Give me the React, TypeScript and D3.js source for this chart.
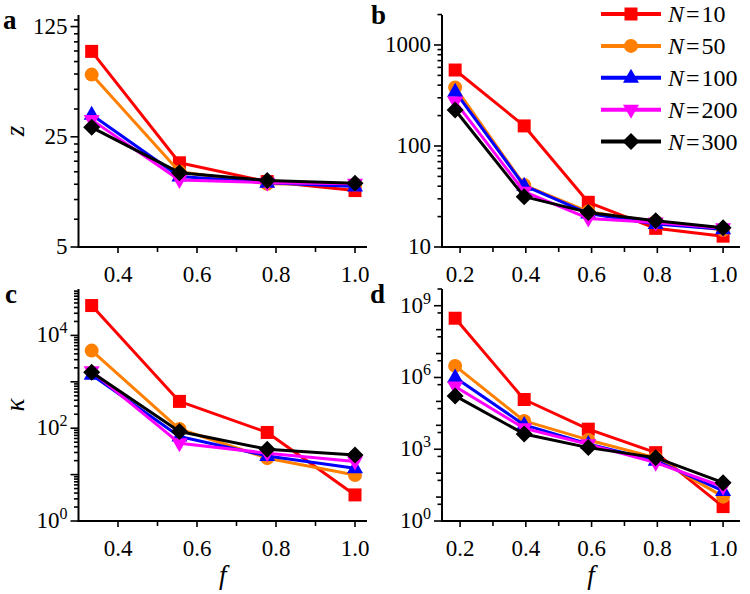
import React from 'react';
import * as d3 from 'd3';

// ---------- data ----------
const seriesLabels = ['10', '50', '100', '200', '300'];
const seriesColors = ['#ff0000', '#ff8000', '#0000ff', '#ff00ff', '#000000'];
const seriesMarkers = ['square', 'circle', 'triUp', 'triDown', 'diamond'];

const fLeft = [1 / 3, 5 / 9, 7 / 9, 1];
const fRight = [0.185, 0.395, 0.59, 0.795, 1];

const zA = [
  [87, 17.1, 13.0, 11.4],
  [62, 15.0, 12.6, 12.4],
  [34.5, 14.0, 12.8, 12.1],
  [32, 13.3, 12.8, 12.6],
  [28.7, 14.8, 13.2, 12.7],
];
const zB = [
  [565, 158, 27.7, 15.3, 12.8],
  [380, 41, 22.4, 17.8, 14.7],
  [345, 40.4, 21.5, 16.9, 15.0],
  [275, 35.3, 19.2, 17.5, 15.3],
  [227, 31.5, 22, 18.2, 15.5],
];
const kC = [
  [44000, 378, 81, 3.65],
  [4700, 96, 22.6, 9.8],
  [1420, 66, 25.3, 13.7],
  [1680, 47.6, 29, 19.1],
  [1600, 85, 35.3, 26.6],
];
const kD = [
  [3e8, 1.2e5, 6900, 720, 4],
  [3.05e6, 15300, 2450, 446, 10.4],
  [1.0e6, 10400, 1670, 333, 18],
  [4.2e5, 7550, 1600, 275, 27],
  [1.7e5, 4370, 1170, 446, 40],
];

const xTicksLeft = [0.4, 0.6, 0.8, 1.0];
const xTicksRight = [0.2, 0.4, 0.6, 0.8, 1.0];
const xMinor = [0.3, 0.5, 0.7, 0.9];

const yTicksA = [5, 25, 125];
const yMinorA = [7.5, 10, 12.5, 15, 17.5, 20, 22.5, 37.5, 50, 62.5, 75, 87.5, 100, 112.5, 137.5];
const yTicksB = [10, 100, 1000];
const yTicksCExp = [0, 2, 4];
const yTicksDExp = [0, 3, 6, 9];

const FONT = 'Liberation Serif, DejaVu Serif, Times New Roman, serif';
const fontStyle = { fontFamily: FONT };

function markerPath(type: string): string {
  switch (type) {
    case 'square':
      return 'M-6.5,-6.5H6.5V6.5H-6.5Z';
    case 'circle':
      return 'M7,0A7,7 0 1,1 -7,0A7,7 0 1,1 7,0Z';
    case 'triUp':
      return 'M0,-9L8,5L-8,5Z';
    case 'triDown':
      return 'M0,9L8,-5L-8,-5Z';
    default:
      return 'M0,-8.5L8.5,0L0,8.5L-8.5,0Z';
  }
}

type YTick = { v: number; label?: React.ReactNode; len: number };

function Panel(props: {
  left: number; right: number; top: number; bottom: number;
  xDomain: [number, number]; yDomain: [number, number];
  xs: number[]; ys: number[][];
  xMajor: number[];
  yTicks: YTick[];
  letter: string; letterX: number; letterY: number;
  xLabel?: boolean; yLabel?: string;
}) {
  const { left, right, top, bottom } = props;
  const x = d3.scaleLinear().domain(props.xDomain).range([left, right]);
  const y = d3.scaleLog().domain(props.yDomain).range([bottom, top]);
  const line = d3.line<[number, number]>().x(d => x(d[0])).y(d => y(d[1]));
  return (
    <g>
      {props.ys.map((vals, i) => {
        const pts = vals.map((v, j) => [props.xs[j], v] as [number, number]);
        return (
          <g key={i}>
            <path d={line(pts) || ''} fill="none" stroke={seriesColors[i]} strokeWidth={3} strokeLinejoin="round" />
            {pts.map((p, j) => (
              <path key={j} d={markerPath(seriesMarkers[i])} transform={`translate(${x(p[0])},${y(p[1])})`} fill={seriesColors[i]} />
            ))}
          </g>
        );
      })}
      <line x1={left} x2={left} y1={top} y2={bottom + 1} stroke="#000" strokeWidth={2} />
      <line x1={left - 1} x2={right} y1={bottom} y2={bottom} stroke="#000" strokeWidth={2} />
      {props.xMajor.map(t => (
        <g key={'xm' + t}>
          <line x1={x(t)} x2={x(t)} y1={bottom} y2={bottom + 6} stroke="#000" strokeWidth={1.6} />
          <text x={x(t)} y={bottom + 35} textAnchor="middle" style={fontStyle} fontSize={23}>{t.toFixed(1)}</text>
        </g>
      ))}
      {xMinor.filter(t => x(t) > left + 1).map(t => (
        <line key={'xn' + t} x1={x(t)} x2={x(t)} y1={bottom} y2={bottom + 5} stroke="#000" strokeWidth={1.6} />
      ))}
      {props.yTicks.filter(t => y(t.v) >= top - 0.5 && y(t.v) <= bottom + 0.5).map((t, i) => (
        <g key={'y' + i}>
          <line x1={left - t.len} x2={left} y1={y(t.v)} y2={y(t.v)} stroke="#000" strokeWidth={1.6} />
          {t.label !== undefined && (
            <text x={left - 11} y={y(t.v) + 7} textAnchor="end" style={fontStyle} fontSize={23}>{t.label}</text>
          )}
        </g>
      ))}
      <text x={props.letterX} y={props.letterY} style={fontStyle} fontWeight="bold" fontSize={27}>{props.letter}</text>
      {props.xLabel && (
        <text x={(left + right) / 2} y={bottom + 63} textAnchor="middle" style={fontStyle} fontStyle="italic" fontSize={27}>f</text>
      )}
      {props.yLabel && (
        <text transform={`translate(${left - 55},${(top + bottom) / 2}) rotate(-90)`} textAnchor="middle" style={fontStyle} fontStyle="italic" fontSize={27}>{props.yLabel}</text>
      )}
    </g>
  );
}

function pow10Label(e: number) {
  return (
    <>
      10<tspan dy={-9} fontSize={16}>{e}</tspan>
    </>
  );
}

function logTicks(minExp: number, maxExp: number, labelled: number[], minorMults: number[], decadeLen: number) {
  const ticks: YTick[] = [];
  for (let e = minExp; e <= maxExp; e++) {
    const v = Math.pow(10, e);
    ticks.push({ v, len: labelled.includes(e) ? 8 : decadeLen, label: labelled.includes(e) ? pow10Label(e) : undefined });
    minorMults.forEach(m => ticks.push({ v: m * v, len: 4.5 }));
  }
  return ticks;
}

export default function App() {
  const ticksA: YTick[] = [
    ...yTicksA.map(v => ({ v, len: 8, label: String(v) })),
    ...yMinorA.map(v => ({ v, len: 4.5 })),
  ];
  const ticksB: YTick[] = [
    ...yTicksB.map(v => ({ v, len: 8, label: String(v) })),
    ...[10, 100, 1000].flatMap(d => [2, 3, 4, 5, 6, 7, 8, 9].map(m => ({ v: m * d, len: 4.5 }))),
  ];
  const ticksC = logTicks(0, 4, yTicksCExp, [2, 3, 4, 5, 6, 7, 8, 9], 8);
  const ticksD = logTicks(0, 9, yTicksDExp, [5], 6);

  const L = { left: 78.5, right: 367 };
  const R = { left: 442, right: 740 };
  const T = { top: 15, bottom: 247 };
  const B = { top: 289, bottom: 521 };
  const xDomL: [number, number] = [0.3, 0.3 + (L.right - L.left) / 395];
  const xDomR: [number, number] = [0.145, 0.145 + (R.right - R.left) / 328.75];

  return (
    <svg width={750} height={594} style={{ position: 'absolute', left: 0, top: 0, background: '#fff' }}>
      <rect width={750} height={594} fill="#fff" />
      <Panel {...L} {...T} xDomain={xDomL} yDomain={[5, 148]} xs={fLeft} ys={zA}
        xMajor={xTicksLeft} yTicks={ticksA} letter="a" letterX={3} letterY={29} yLabel="z" />
      <Panel {...R} {...T} xDomain={xDomR} yDomain={[10, 1980]} xs={fRight} ys={zB}
        xMajor={xTicksRight} yTicks={ticksB} letter="b" letterX={371} letterY={24} />
      <Panel {...L} {...B} xDomain={xDomL} yDomain={[1, 1e5]} xs={fLeft} ys={kC}
        xMajor={xTicksLeft} yTicks={ticksC} letter="c" letterX={5} letterY={303} xLabel yLabel="κ" />
      <Panel {...R} {...B} xDomain={xDomR} yDomain={[1, 5e9]} xs={fRight} ys={kD}
        xMajor={xTicksRight} yTicks={ticksD} letter="d" letterX={370} letterY={303} xLabel />
      <g>
        {seriesLabels.map((s, i) => {
          const yy = 14 + i * 31.9;
          return (
            <g key={s}>
              <line x1={601} x2={661} y1={yy} y2={yy} stroke={seriesColors[i]} strokeWidth={4} />
              <path d={markerPath(seriesMarkers[i])} transform={`translate(631,${yy})`} fill={seriesColors[i]} />
              <text x={668} y={yy + 8} style={fontStyle} fontSize={24}>
                <tspan fontStyle="italic">N</tspan><tspan dx={2}>=</tspan><tspan dx={2}>{s}</tspan>
              </text>
            </g>
          );
        })}
      </g>
    </svg>
  );
}
